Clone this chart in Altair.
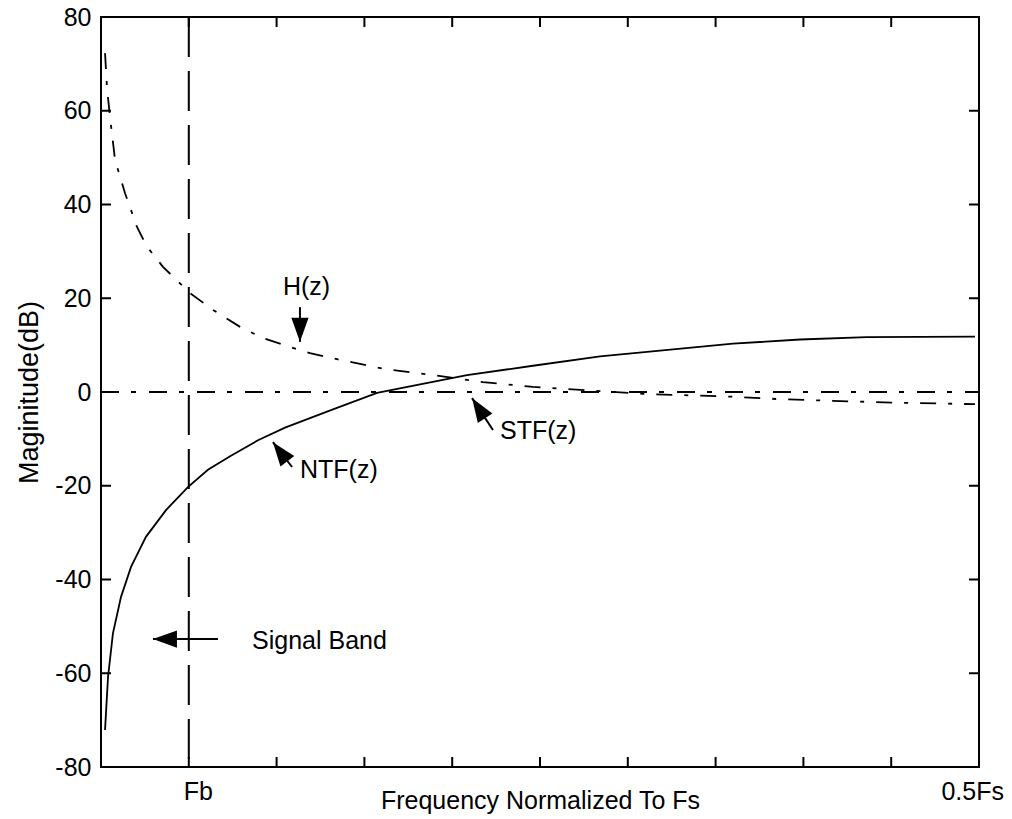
import altair as alt
import pandas as pd

FONT = "Liberation Sans"

# ---- data ----
h_f = [0.0023, 0.0034, 0.0051, 0.0080, 0.0137, 0.0205, 0.0262, 0.0353, 0.0507, 0.0638,
       0.0792, 0.0923, 0.1059, 0.1190, 0.1344, 0.1475, 0.1617, 0.1891, 0.2175, 0.2460,
       0.2842, 0.3087, 0.3599, 0.3850, 0.4265, 0.4550, 0.4977]
h_db = [72.3, 65.0, 58.7, 49.5, 42.4, 35.2, 31.0, 26.7, 21.1, 17.5,
        13.9, 11.5, 9.8, 8.3, 7.0, 6.0, 4.9, 3.6, 2.1, 1.1,
        0.2, -0.4, -1.0, -1.5, -2.0, -2.3, -2.6]

ntf_f = [0.0023, 0.0040, 0.0068, 0.0114, 0.0171, 0.0256, 0.0370, 0.0495, 0.0609, 0.0740,
         0.0894, 0.1048, 0.1321, 0.1572, 0.2084, 0.2460, 0.2842, 0.3599, 0.3981, 0.4362, 0.4977]
ntf_db = [-72.1, -60.8, -51.5, -43.7, -37.3, -30.9, -25.2, -20.3, -16.6, -13.6,
          -10.3, -7.6, -3.7, -0.2, 3.6, 5.6, 7.6, 10.3, 11.2, 11.7, 11.8]

stf_f = [0.0, 0.5]
stf_db = [0.0, 0.0]

fb_freq = [0.05]
fb_top = [80]
fb_bottom = [-80]

y_ticks = [-80, -60, -40, -20, 0, 20, 40, 60, 80]
x_ticks = [0.05, 0.10, 0.15, 0.20, 0.25, 0.30, 0.35, 0.40, 0.45]

ann_text = ["H(z)", "NTF(z)", "STF(z)", "Signal Band"]
ann_f = [0.1036, 0.1133, 0.2272, 0.0860]
ann_db = [22.4, -16.6, -8.3, -53.1]

arrow_tail_f = [0.1133, 0.1088, 0.2232, 0.0666]
arrow_tail_db = [18.1, -16.0, -8.1, -52.7]
arrow_tip_f = [0.1133, 0.0979, 0.2113, 0.0296]
arrow_tip_db = [10.7, -10.7, -1.3, -52.7]
arrow_angle = [180, 323, 327, 270]

xlab_left_f = [0.05]
xlab_left_text = ["Fb"]
xlab_right_f = [0.5]
xlab_right_text = ["0.5Fs"]

# ---- frames ----
h_df = pd.DataFrame({"f": h_f, "db": h_db})
ntf_df = pd.DataFrame({"f": ntf_f, "db": ntf_db})
stf_df = pd.DataFrame({"f": stf_f, "db": stf_db})
fb_df = pd.DataFrame({"f": fb_freq, "db": fb_top, "db2": fb_bottom})
yt_df = pd.DataFrame({"db": y_ticks})
xt_df = pd.DataFrame({"f": x_ticks})
ann_df = pd.DataFrame({"f": ann_f, "db": ann_db, "t": ann_text})
arr_df = pd.DataFrame({"f": arrow_tail_f, "db": arrow_tail_db,
                       "f2": arrow_tip_f, "db2": arrow_tip_db, "ang": arrow_angle})
head_df = pd.DataFrame({"f": arrow_tip_f, "db": arrow_tip_db, "ang": arrow_angle})
xl_l_df = pd.DataFrame({"f": xlab_left_f, "t": xlab_left_text})
xl_r_df = pd.DataFrame({"f": xlab_right_f, "t": xlab_right_text})

W, H = 878, 750

xs = alt.Scale(domain=[0, 0.5], nice=False, zero=False)
ys = alt.Scale(domain=[-80, 80], nice=False, zero=False)

x_axis = alt.Axis(labels=False, ticks=False, domain=False, grid=False,
                  title="Frequency Normalized To Fs", titleFont=FONT, titleFontSize=25,
                  titleFontWeight="normal", titleColor="black", titlePadding=21)
y_axis = alt.Axis(values=y_ticks, tickSize=0, domain=False, grid=False,
                  labelFont=FONT, labelFontSize=25, labelColor="black", labelPadding=10,
                  labelExpr="toString(datum.value)",
                  title="Maginitude(dB)", titleFont=FONT, titleFontSize=27,
                  titleFontWeight="normal", titleColor="black", titlePadding=11)


def X(field="f"):
    return alt.X(field, type="quantitative", scale=xs, axis=x_axis)


def Y(field="db"):
    return alt.Y(field, type="quantitative", scale=ys, axis=y_axis)


h_line = alt.Chart(h_df).mark_line(color="black", strokeWidth=1.8,
                                   strokeDash=[16, 12, 4, 12]).encode(x=X(), y=Y(), order="f:Q")
ntf_line = alt.Chart(ntf_df).mark_line(color="black", strokeWidth=1.8).encode(x=X(), y=Y(), order="f:Q")
stf_line = alt.Chart(stf_df).mark_line(color="black", strokeWidth=1.8,
                                       strokeDash=[18, 12, 5, 13]).encode(x=X(), y=Y())
fb_line = alt.Chart(fb_df).mark_rule(color="black", strokeWidth=2,
                                     strokeDash=[40, 14]).encode(x=X(), y=Y(), y2="db2")

yt_left = alt.Chart(yt_df).mark_rule(color="black", strokeWidth=2).encode(
    y=Y(), x=alt.value(0), x2=alt.value(10))
yt_right = alt.Chart(yt_df).mark_rule(color="black", strokeWidth=2).encode(
    y=Y(), x=alt.value(W - 10), x2=alt.value(W))
xt_bottom = alt.Chart(xt_df).mark_rule(color="black", strokeWidth=2).encode(
    x=X(), y=alt.value(H - 10), y2=alt.value(H))
xt_top = alt.Chart(xt_df).mark_rule(color="black", strokeWidth=2).encode(
    x=X(), y=alt.value(0), y2=alt.value(10))

ann = alt.Chart(ann_df).mark_text(align="left", baseline="middle", font=FONT,
                                  fontSize=25, color="black").encode(x=X(), y=Y(), text="t:N")
shafts = alt.Chart(arr_df).mark_rule(color="black", strokeWidth=2).encode(
    x=X(), y=Y(), x2="f2", y2="db2")
heads = alt.Chart(head_df).mark_point(
    shape="M0,0L-0.36,1L0.36,1Z", filled=True, color="black", opacity=1, size=2300,
    strokeWidth=0).encode(x=X(), y=Y(), angle=alt.Angle("ang:Q", scale=None))

xl_left = alt.Chart(xl_l_df).mark_text(align="left", baseline="top", font=FONT, fontSize=25,
                                       color="black", dx=-5).encode(
    x=X(), y=alt.value(H + 13), text="t:N")
xl_right = alt.Chart(xl_r_df).mark_text(align="right", baseline="top", font=FONT, fontSize=25,
                                        color="black", dx=25).encode(
    x=X(), y=alt.value(H + 13), text="t:N")

chart = alt.layer(
    fb_line, stf_line, h_line, ntf_line,
    yt_left, yt_right, xt_bottom, xt_top,
    shafts, heads, ann, xl_left, xl_right,
).properties(
    width=W, height=H,
    autosize=alt.AutoSizeParams(type="none"),
    padding={"left": 101, "top": 17, "right": 33, "bottom": 52},
    background="white",
).configure_view(stroke="black", strokeWidth=2)

chart.save("out.html", embed_options={"renderer": "svg", "actions": False})
